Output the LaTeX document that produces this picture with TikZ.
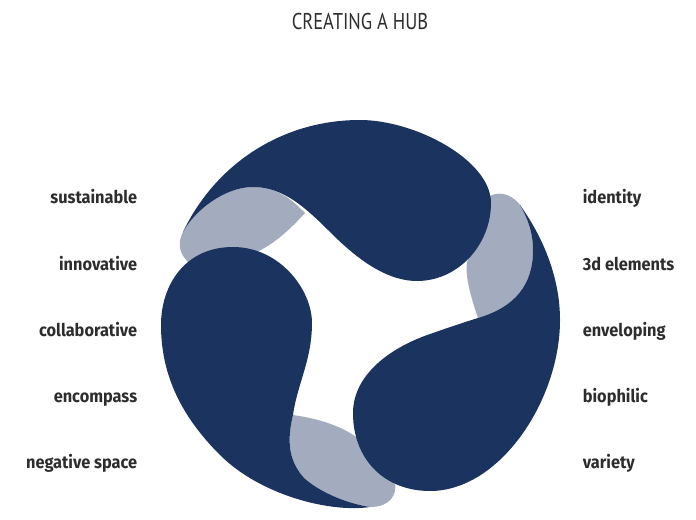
\documentclass[tikz,border=0pt]{standalone}
\usepackage{fontspec}
\setmainfont{PT Sans}
\newfontfamily\hubtitlefont[FakeStretch=0.81]{PT Sans}
\newfontfamily\hublabelfont[FakeStretch=0.93]{Fira Sans}
\definecolor{hub_dark}{RGB}{27,51,95}
\definecolor{hub_light}{RGB}{163,172,191}
\definecolor{hub_text}{RGB}{45,45,45}
\tikzset{
  hubdark/.style={fill=hub_dark},
  hublight/.style={fill=hub_light},
  leftlabel/.style={anchor=base east, font=\hublabelfont\bfseries\fontsize{10}{12}\selectfont, text=hub_text, inner sep=0pt},
  rightlabel/.style={anchor=base west, font=\hublabelfont\bfseries\fontsize{10}{12}\selectfont, text=hub_text, inner sep=0pt},
}
\begin{document}
\begin{tikzpicture}[x=0.02cm, y=-0.02cm]
  \useasboundingbox (0,0) rectangle (696,520);
  \node[anchor=base, font=\hubtitlefont\fontsize{13}{16}\selectfont, text=hub_text, inner sep=0pt] (title) at (360,29.5) {CREATING A HUB};
  % light parts first, the dark parts lie over them
  \fill[hublight] (183,232) .. controls (195,210) and (225,187) .. (253,187)
    .. controls (280,187) and (295,203) .. (305,213)
    .. controls (285,235) and (265,252) .. (240,258) -- (200,275) -- (188,262)
    .. controls (178,252) and (178,242) .. (183,232) -- cycle;
  \fill[hublight] (480,230) -- (490,196) .. controls (497,192) and (510,192) .. (520,205)
    .. controls (527,217) and (533,232) .. (533,250)
    .. controls (533,285) and (515,307) .. (478,318)
    .. controls (470,295) and (465,275) .. (467,262) -- cycle;
  \fill[hublight] (293,415) .. controls (315,418) and (340,425) .. (356,437) -- (380,460) -- (395,483)
    .. controls (397,495) and (390,507) .. (370,507)
    .. controls (350,504) and (322,494) .. (304,478)
    .. controls (288,460) and (287,440) .. (293,415) -- cycle;
  % top
  \fill[hubdark] (183,232) .. controls (216,163) and (283,120) .. (360,120)
    .. controls (415,120) and (491,160) .. (491,203)
    .. controls (491,245) and (458,281) .. (417,281)
    .. controls (385,281) and (355,257) .. (330,232)
    .. controls (305,207) and (283,187) .. (253,187)
    .. controls (225,187) and (195,210) .. (183,232) -- cycle;
  % left
  \fill[hubdark] (233,247) .. controls (280,247) and (312,290) .. (312,323)
    .. controls (312,360) and (297,385) .. (293,415)
    .. controls (287,440) and (288,460) .. (304,478)
    .. controls (322,494) and (350,504) .. (370,507)
    .. controls (330,513) and (260,495) .. (220,455)
    .. controls (183,418) and (161,377) .. (161,325)
    .. controls (161,285) and (185,247) .. (233,247) -- cycle;
  % right
  \fill[hubdark] (520,205) .. controls (545,240) and (560,280) .. (560,320)
    .. controls (560,400) and (500,491) .. (430,491)
    .. controls (385,491) and (353,460) .. (353,413)
    .. controls (353,375) and (390,347) .. (433,333)
    .. controls (450,327) and (465,322) .. (478,318)
    .. controls (515,307) and (533,285) .. (533,250)
    .. controls (533,232) and (527,217) .. (520,205) -- cycle;
  \node[leftlabel] (sustainable) at (137.5,203.5) {sustainable};
  \node[leftlabel] (innovative) at (137.5,270.5) {innovative};
  \node[leftlabel] (collaborative) at (137.5,336.5) {collaborative};
  \node[leftlabel] (encompass) at (137.5,402.5) {encompass};
  \node[leftlabel] (negative) at (137.5,468.5) {negative space};
  \node[rightlabel] (identity) at (582.5,203.5) {identity};
  \node[rightlabel] (elements) at (582.5,270.5) {3d elements};
  \node[rightlabel] (enveloping) at (582.5,336.5) {enveloping};
  \node[rightlabel] (biophilic) at (582.5,402.5) {biophilic};
  \node[rightlabel] (variety) at (582.5,468.5) {variety};
\end{tikzpicture}
\end{document}
